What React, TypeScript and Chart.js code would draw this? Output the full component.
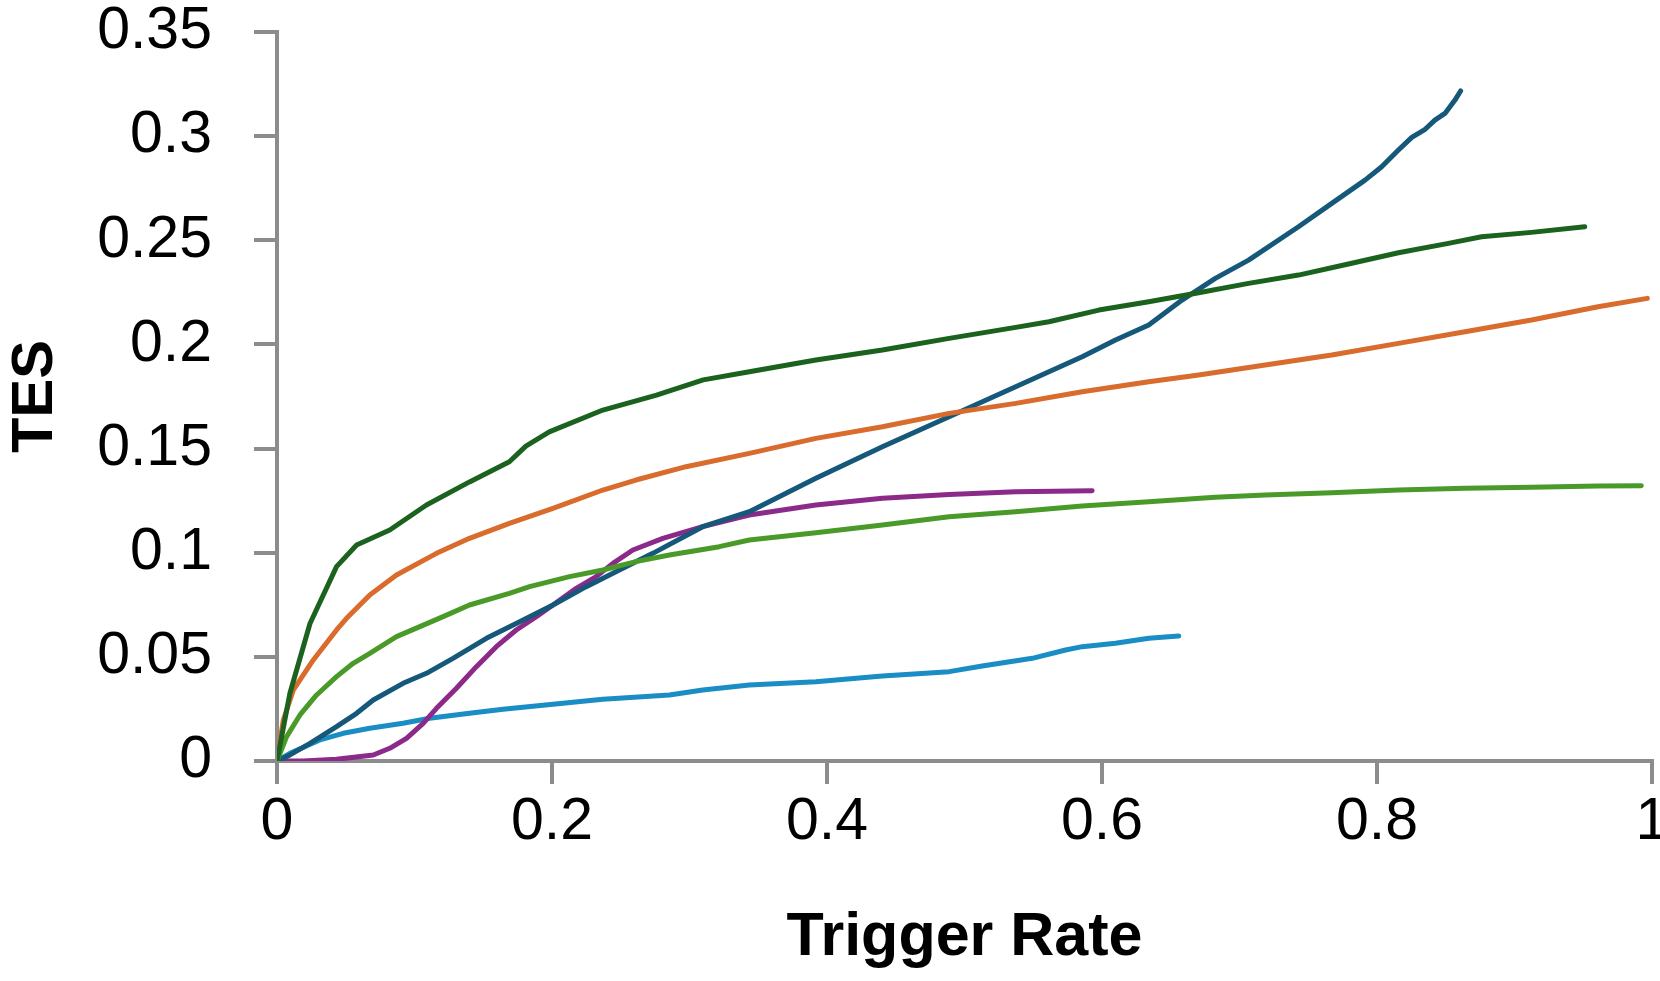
import React, { useEffect, useRef } from "react";
import { Chart, registerables } from "chart.js";

Chart.register(...registerables);

// ---- Data ----
const darkGreenX = [0, 0.0094, 0.024, 0.0433, 0.0579, 0.082, 0.1087, 0.14, 0.169, 0.181, 0.198, 0.237, 0.276, 0.31, 0.3435, 0.3919, 0.4403, 0.4888, 0.5372, 0.5614, 0.5977, 0.634, 0.6703, 0.7066, 0.7429, 0.7792, 0.8156, 0.8519, 0.8761, 0.9123, 0.9511];
const darkGreenY = [0, 0.0325, 0.066, 0.0933, 0.1037, 0.1109, 0.1229, 0.134, 0.1437, 0.1512, 0.158, 0.1685, 0.1757, 0.183, 0.1869, 0.1925, 0.1973, 0.2029, 0.2082, 0.2109, 0.2165, 0.2205, 0.2248, 0.2293, 0.2333, 0.2386, 0.244, 0.2485, 0.2517, 0.2538, 0.2565];

const orangeX = [0, 0.0046, 0.0119, 0.0264, 0.0433, 0.0506, 0.0675, 0.0869, 0.116, 0.14, 0.169, 0.2007, 0.237, 0.261, 0.2975, 0.3435, 0.3919, 0.4403, 0.4888, 0.5372, 0.5856, 0.634, 0.6703, 0.7187, 0.7671, 0.8156, 0.864, 0.9124, 0.9608, 0.9966];
const orangeY = [0, 0.0197, 0.0341, 0.0485, 0.0629, 0.0685, 0.0797, 0.0893, 0.0997, 0.1069, 0.1141, 0.1213, 0.1301, 0.1349, 0.1413, 0.1477, 0.1549, 0.1605, 0.1669, 0.1717, 0.1773, 0.1821, 0.1853, 0.1901, 0.1949, 0.2005, 0.2061, 0.2117, 0.2181, 0.2221];

const lightGreenX = [0, 0.007, 0.0167, 0.0288, 0.0433, 0.0554, 0.0675, 0.0869, 0.1039, 0.1208, 0.14, 0.169, 0.1837, 0.2128, 0.237, 0.261, 0.2854, 0.3217, 0.3435, 0.3919, 0.4403, 0.4888, 0.5372, 0.5856, 0.634, 0.6824, 0.7187, 0.7671, 0.8156, 0.864, 0.9124, 0.9608, 0.9922];
const lightGreenY = [0, 0.0117, 0.0221, 0.0317, 0.0405, 0.0469, 0.0517, 0.0597, 0.0645, 0.0693, 0.0749, 0.0805, 0.0837, 0.0885, 0.0917, 0.0957, 0.0989, 0.1029, 0.1061, 0.1096, 0.1133, 0.1173, 0.1197, 0.1224, 0.1245, 0.1266, 0.1277, 0.1288, 0.1301, 0.1309, 0.1314, 0.132, 0.1322];

const darkBlueX = [0, 0.0094, 0.024, 0.0433, 0.0579, 0.07, 0.0917, 0.1087, 0.128, 0.1523, 0.1765, 0.2007, 0.2249, 0.249, 0.2733, 0.3096, 0.3435, 0.3919, 0.4403, 0.4888, 0.5372, 0.5856, 0.6098, 0.634, 0.6582, 0.6824, 0.7066, 0.7429, 0.7671, 0.7913, 0.8034, 0.8156, 0.8253, 0.835, 0.8421, 0.8494, 0.8567, 0.8608];
const darkBlueY = [0, 0.0029, 0.0085, 0.0165, 0.0229, 0.0293, 0.0373, 0.0421, 0.0493, 0.0589, 0.0669, 0.0749, 0.0837, 0.0917, 0.0997, 0.1125, 0.1197, 0.1357, 0.1509, 0.1653, 0.1797, 0.1941, 0.2021, 0.2093, 0.2213, 0.2317, 0.2405, 0.2565, 0.2677, 0.2789, 0.2853, 0.2933, 0.2994, 0.3033, 0.3077, 0.3109, 0.3173, 0.3217];

const purpleX = [0, 0.0191, 0.0433, 0.07, 0.082, 0.0942, 0.1063, 0.116, 0.1305, 0.145, 0.1595, 0.174, 0.1886, 0.2007, 0.2176, 0.2321, 0.2443, 0.2588, 0.2806, 0.3096, 0.3338, 0.3435, 0.3919, 0.4403, 0.4888, 0.5372, 0.5928];
const purpleY = [0, 0, 0.0008, 0.0029, 0.0061, 0.0109, 0.0181, 0.0253, 0.0349, 0.0453, 0.0549, 0.0629, 0.0693, 0.0749, 0.0829, 0.0885, 0.0949, 0.1013, 0.1069, 0.1125, 0.1165, 0.1181, 0.1229, 0.1261, 0.128, 0.1293, 0.1298];

const lightBlueX = [0, 0.0094, 0.0312, 0.0482, 0.0675, 0.0917, 0.111, 0.14, 0.1644, 0.2007, 0.237, 0.2854, 0.3096, 0.3435, 0.3919, 0.4403, 0.4888, 0.5129, 0.5493, 0.5735, 0.5856, 0.6098, 0.634, 0.6558];
const lightBlueY = [0, 0.0037, 0.0101, 0.0133, 0.0157, 0.0181, 0.0205, 0.0229, 0.0248, 0.0272, 0.0296, 0.0317, 0.0341, 0.0365, 0.0381, 0.0408, 0.0429, 0.0456, 0.0493, 0.0533, 0.0549, 0.0565, 0.0589, 0.06];

const xTickLabels = ["0", "0.2", "0.4", "0.6", "0.8", "1"];
const yTickLabels = ["0", "0.05", "0.1", "0.15", "0.2", "0.25", "0.3", "0.35"];

const xTitle = "Trigger Rate";
const yTitle = "TES";

const seriesList = [
  { xs: darkGreenX, ys: darkGreenY, color: "#1b621f" },
  { xs: orangeX, ys: orangeY, color: "#d96b2d" },
  { xs: lightGreenX, ys: lightGreenY, color: "#4a9a29" },
  { xs: darkBlueX, ys: darkBlueY, color: "#15587a" },
  { xs: purpleX, ys: purpleY, color: "#8b2a88" },
  { xs: lightBlueX, ys: lightBlueY, color: "#1a8dc5" },
];

const AXIS_GRAY = "#8c8c8c";
const FONT = "'Liberation Sans', Arial, sans-serif";

export default function App() {
  const canvasRef = useRef<HTMLCanvasElement | null>(null);

  useEffect(() => {
    if (!canvasRef.current) return;
    const datasets = seriesList.map((s) => ({
      data: s.xs.map((x, i) => ({ x, y: s.ys[i] })),
      borderColor: s.color,
      backgroundColor: s.color,
      borderWidth: 5,
      pointRadius: 0,
      pointHoverRadius: 0,
      tension: 0,
      fill: false,
      borderCapStyle: "round" as const,
      borderJoinStyle: "round" as const,
    }));

    const chart = new Chart(canvasRef.current, {
      type: "line",
      data: { datasets },
      options: {
        animation: false,
        responsive: true,
        maintainAspectRatio: false,
        layout: { padding: { top: 32, right: 8, left: 0, bottom: 0 } },
        plugins: {
          legend: { display: false },
          tooltip: { enabled: false },
        },
        scales: {
          x: {
            type: "linear",
            min: 0,
            max: 1,
            grid: {
              display: true,
              drawOnChartArea: false,
              drawTicks: true,
              tickLength: 23,
              color: AXIS_GRAY,
              lineWidth: 4,
            },
            border: { display: true, color: AXIS_GRAY, width: 4 },
            ticks: {
              stepSize: 0.2,
              autoSkip: false,
              maxRotation: 0,
              padding: 3,
              color: "#000",
              font: { family: FONT, size: 59 },
              callback: (_v: any, i: number) => xTickLabels[i],
            },
            title: {
              display: true,
              text: xTitle,
              color: "#000",
              font: { family: FONT, size: 61, weight: "bold" },
              padding: { top: 0, bottom: 6 },
            },
            afterFit: (scale: any) => {
              scale.height = 220;
              scale.paddingLeft = 0;
              scale.paddingRight = 0;
            },
          },
          y: {
            type: "linear",
            min: 0,
            max: 0.35,
            grid: {
              display: true,
              drawOnChartArea: false,
              drawTicks: true,
              tickLength: 23,
              color: AXIS_GRAY,
              lineWidth: 4,
            },
            border: { display: true, color: AXIS_GRAY, width: 4 },
            ticks: {
              stepSize: 0.05,
              autoSkip: false,
              padding: 42,
              color: "#000",
              font: { family: FONT, size: 59 },
              callback: (_v: any, i: number) => yTickLabels[i],
            },
            title: {
              display: true,
              text: yTitle,
              color: "#000",
              font: { family: FONT, size: 58, weight: "bold" },
              padding: { top: 1, bottom: 0 },
            },
            afterFit: (scale: any) => {
              scale.width = 277;
              scale.paddingTop = 0;
              scale.paddingBottom = 0;
            },
          },
        },
      },
    });
    return () => chart.destroy();
  }, []);

  return (
    <div
      style={{
        position: "absolute",
        left: 0,
        top: 0,
        width: 1660,
        height: 981,
        background: "#fff",
        overflow: "hidden",
      }}
    >
      <canvas ref={canvasRef} />
    </div>
  );
}
